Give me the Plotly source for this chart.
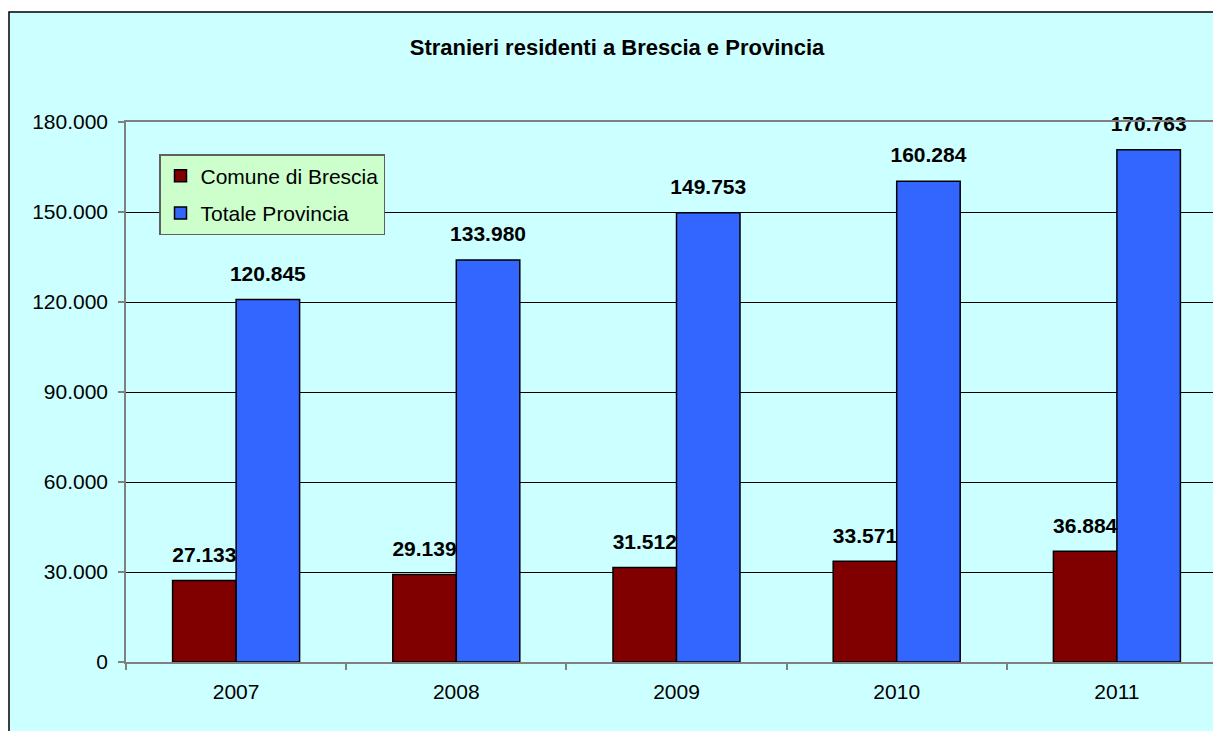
import plotly.graph_objects as go

years = ["2007", "2008", "2009", "2010", "2011"]
comune = [27133, 29139, 31512, 33571, 36884]
provincia = [120845, 133980, 149753, 160284, 170763]
series_names = ["Comune di Brescia", "Totale Provincia"]
title_text = "Stranieri residenti a Brescia e Provincia"
y_ticks = [0, 30000, 60000, 90000, 120000, 150000, 180000]

RED = "#800000"
BLUE = "#3366FF"
FONT = "Liberation Sans, Arial, sans-serif"

W, H = 1213, 731
L, T, R, B = 126, 122, 0, 69
plot_w = W - L - R
plot_h = H - T - B
cat_px = 220.2
group_frac = 127 / cat_px


def fmt(v):
    return f"{v:,}".replace(",", ".")


fig = go.Figure()
for name, vals, col, grp in [(series_names[0], comune, RED, "a"),
                             (series_names[1], provincia, BLUE, "b")]:
    fig.add_trace(go.Bar(
        x=years, y=vals, name=name, legendgroup=grp, offsetgroup=grp,
        marker=dict(color=col, line=dict(color="black", width=1.5)),
    ))
for vals, grp in [(comune, "a"), (provincia, "b")]:
    fig.add_trace(go.Scatter(
        x=years, y=vals, mode="markers+text", offsetgroup=grp,
        text=[fmt(v) for v in vals], textposition="top center",
        textfont=dict(family=FONT, size=21, color="black", weight="bold"),
        marker=dict(size=20, color="rgba(0,0,0,0)"),
        showlegend=False, hoverinfo="skip", cliponaxis=False,
    ))

px_x = lambda p: (p - L) / plot_w
px_y = lambda p: (H - B - p) / plot_h
shapes = [
    dict(type="rect", xref="paper", yref="paper", layer="below",
         x0=px_x(9), x1=px_x(W + 40), y0=px_y(H + 40), y1=px_y(12),
         fillcolor="#CCFFFF", line=dict(color="black", width=1.5)),
]

fig.update_layout(
    width=W, height=H,
    margin=dict(l=L, r=R, t=T, b=B, pad=0),
    paper_bgcolor="white",
    plot_bgcolor="#FFFFCC",
    separators=",.",
    barmode="group",
    bargap=1 - group_frac,
    bargroupgap=0,
    scattermode="group",
    scattergap=1 - group_frac,
    font=dict(family=FONT, size=21, color="black"),
    title=dict(text=title_text, x=617 / W, xanchor="center", xref="container",
               y=1 - 47 / H, yanchor="middle", yref="container",
               font=dict(family=FONT, size=22, color="black", weight="bold")),
    showlegend=True,
    legend=dict(x=px_x(159), y=px_y(154), xanchor="left", yanchor="top",
                bgcolor="#CCFFCC", bordercolor="#606060", borderwidth=1.5,
                traceorder="grouped", tracegroupgap=7,
                font=dict(family=FONT, size=21, color="black")),
    shapes=shapes,
    xaxis=dict(type="category", range=[-0.5, -0.5 + plot_w / cat_px],
               showgrid=False, showline=True, linecolor="#808080", linewidth=1.5,
               mirror=True, ticks="outside", tickson="boundaries", ticklen=6,
               tickcolor="#808080", tickwidth=1.5, ticklabelstandoff=10,
               tickfont=dict(family=FONT, size=21, color="black")),
    yaxis=dict(range=[0, 180000], tickvals=y_ticks, tickformat=",d",
               showgrid=True, gridcolor="black", gridwidth=1,
               zeroline=False,
               showline=True, linecolor="#808080", linewidth=1.5, mirror=False,
               ticks="outside", ticklen=6, tickcolor="#808080", tickwidth=1.5,
               ticklabelstandoff=6,
               tickfont=dict(family=FONT, size=21, color="black")),
)

fig.write_html("out.html", config={"displayModeBar": False},
               post_script="document.body.style.margin='0';document.body.style.overflow='hidden';")
